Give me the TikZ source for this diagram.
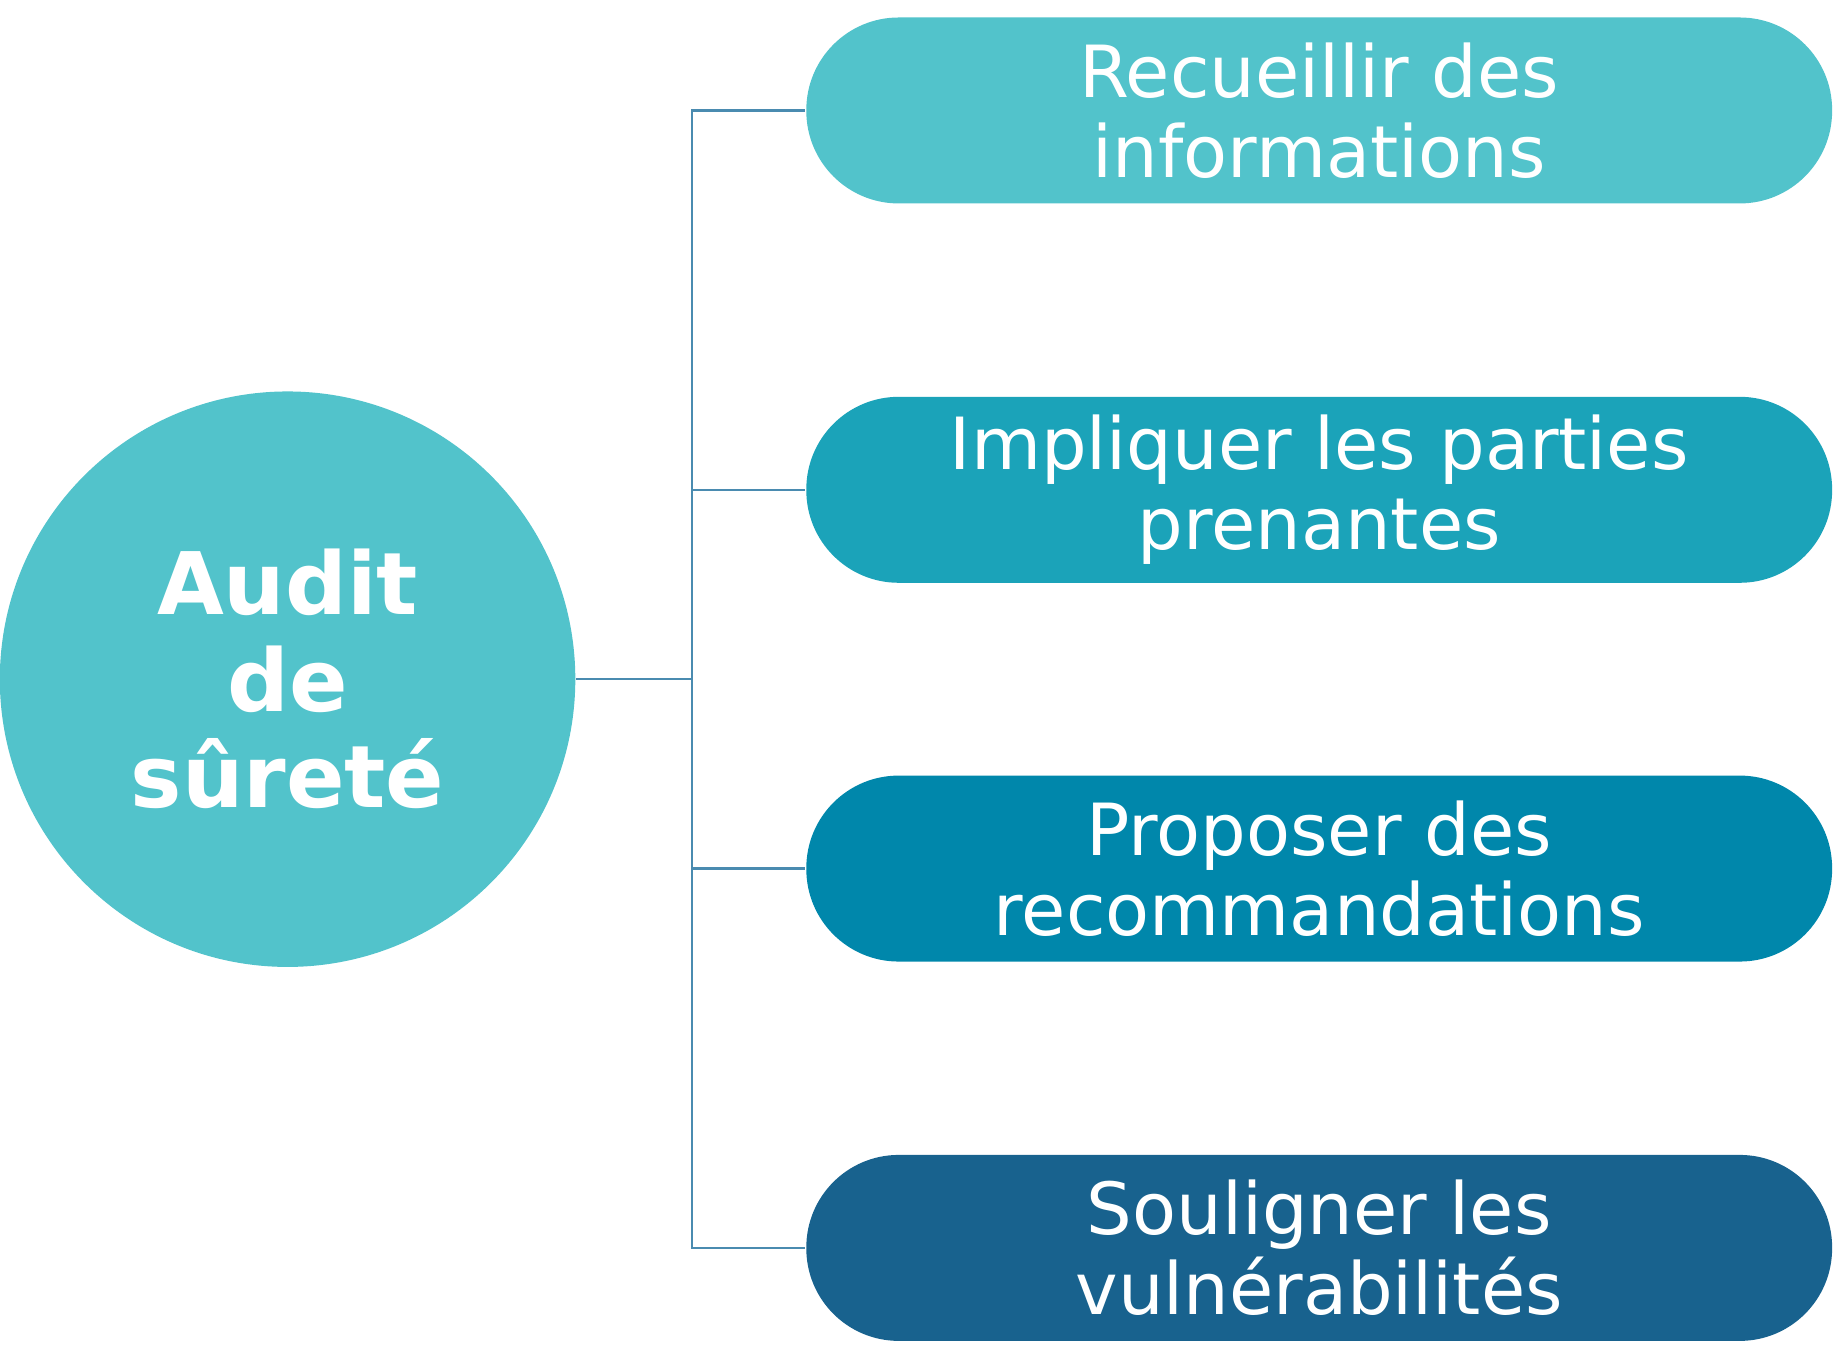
\documentclass[tikz,border=0pt]{standalone}
\usepackage{fontspec}
\setmainfont{DejaVu Sans}
\definecolor{c1}{HTML}{52C3CB}
\definecolor{c2}{HTML}{1BA3B9}
\definecolor{c3}{HTML}{0087AB}
\definecolor{c4}{HTML}{18628E}
\definecolor{ln}{HTML}{4A8BB0}
\begin{document}
\begin{tikzpicture}[x=0.01cm,y=-0.01cm,
  box/.style={rounded corners=0.79cm,minimum width=8.77cm,minimum height=1.59cm,text=white,align=center,font=\fontsize{17.5}{19.5}\selectfont,inner sep=0pt},
  conn/.style={draw=ln,line width=0.6pt}]
\useasboundingbox (0,0) rectangle (1568,1173);
\node[circle,fill=c1,minimum size=4.92cm,inner sep=0pt,text=white,align=center,font=\fontsize{21}{23.5}\selectfont\bfseries] (c) at (246,581) {Audit\\de\\sûreté};
\node[box,fill=c1] (b1) at (1128.5,94.5) {Recueillir des\\informations};
\node[box,fill=c2] (b2) at (1128.5,419) {Impliquer les parties\\prenantes};
\node[box,fill=c3] (b3) at (1128.5,743) {Proposer des\\recommandations};
\node[box,fill=c4] (b4) at (1128.5,1067.5) {Souligner les\\vulnérabilités};
\coordinate (j) at (592,581);
\foreach \b in {b1,b2,b3,b4} \draw[conn] (c.east) -- (j) |- (\b.west);
\end{tikzpicture}
\end{document}
